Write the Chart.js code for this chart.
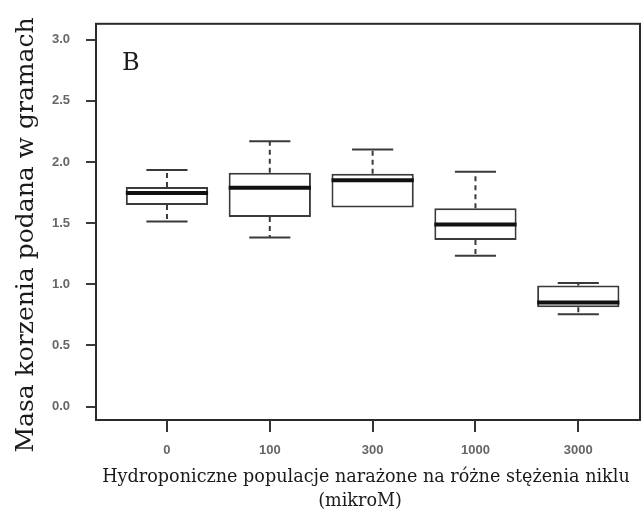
<!DOCTYPE html>
<html>
<head>
<meta charset="utf-8">
<script src="https://cdn.jsdelivr.net/npm/chart.js@4.4.1/dist/chart.umd.min.js"></script>
<style>
  html, body { margin: 0; padding: 0; background: #fff; }
  canvas { display: block; }
</style>
</head>
<body>
<canvas id="rootMass" width="642" height="511"></canvas>
<script>
// Nickel concentrations (micromolar)
const doses = ['0', '100', '300', '1000', '3000'];

// Box plot statistics, root mass in grams
const whiskerLow  = [1.513, 1.382, 1.627, 1.233, 0.755];
const q1          = [1.649, 1.551, 1.627, 1.361, 0.812];
const medians     = [1.746, 1.789, 1.850, 1.488, 0.851];
const q3          = [1.795, 1.912, 1.903, 1.622, 0.989];
const whiskerHigh = [1.934, 2.170, 2.102, 1.920, 1.011];

const yTicks = [0, 0.5, 1.0, 1.5, 2.0, 2.5, 3.0];

const yTitle = 'Masa korzenia podana w gramach';
const xTitle = ['Hydroponiczne populacje narażone na różne stężenia niklu', '(mikroM)'];
const panelLabel = 'B';

const INK = '#3a3a3a';

// whiskers (dashed) and caps under the boxes; medians, frame, ticks and titles on top
const boxPlotPlugin = {
    id: 'boxPlotExtras',
    beforeDatasetsDraw(chart) {
        const { ctx, scales: { y } } = chart;
        const meta = chart.getDatasetMeta(0);
        ctx.save();
        meta.data.forEach((bar, i) => {
            const cx = bar.x;
            const capHalf = bar.width / 4;
            const ends = [[q3[i], whiskerHigh[i]], [q1[i], whiskerLow[i]]];
            ends.forEach(([from, to]) => {
                if (Math.abs(from - to) < 1e-6) return;
                const y0 = y.getPixelForValue(from);
                const y1 = y.getPixelForValue(to);
                ctx.strokeStyle = INK;
                ctx.lineWidth = 2;
                ctx.setLineDash([5, 4]);
                ctx.beginPath();
                ctx.moveTo(cx, y0);
                ctx.lineTo(cx, y1);
                ctx.stroke();
                ctx.setLineDash([]);
                ctx.beginPath();
                ctx.moveTo(cx - capHalf, y1);
                ctx.lineTo(cx + capHalf, y1);
                ctx.stroke();
            });
        });
        ctx.restore();
    },
    afterDatasetsDraw(chart) {
        const { ctx, chartArea, scales: { y } } = chart;
        const meta = chart.getDatasetMeta(0);
        ctx.save();
        // medians
        ctx.strokeStyle = '#111';
        ctx.lineWidth = 4;
        meta.data.forEach((bar, i) => {
            const my = y.getPixelForValue(medians[i]);
            ctx.beginPath();
            ctx.moveTo(bar.x - bar.width / 2, my);
            ctx.lineTo(bar.x + bar.width / 2, my);
            ctx.stroke();
        });
        // plot frame
        ctx.strokeStyle = '#2a2a2a';
        ctx.lineWidth = 2;
        ctx.strokeRect(chartArea.left, chartArea.top, chartArea.right - chartArea.left, chartArea.bottom - chartArea.top);
        ctx.restore();
    },
    afterDraw(chart) {
        const { ctx, chartArea, scales: { x } } = chart;
        ctx.save();

        // tick marks below the frame, one per dose
        ctx.fillStyle = '#333';
        doses.forEach((d, i) => {
            const px = Math.round(x.getPixelForValue(i + 1));
            ctx.fillRect(px - 1, chartArea.bottom, 2, 12);
        });

        ctx.fillStyle = '#1a1a1a';
        ctx.textAlign = 'center';
        ctx.textBaseline = 'alphabetic';

        // y axis title
        ctx.save();
        ctx.translate(33, 235);
        ctx.rotate(-Math.PI / 2);
        ctx.font = '25px "DejaVu Serif"';
        ctx.fillText(yTitle, 0, 0);
        ctx.restore();

        // x axis title, two lines
        ctx.font = '17.6px "DejaVu Serif"';
        ctx.fillText(xTitle[0], 366, 482);
        ctx.fillText(xTitle[1], 360, 506);

        // panel letter
        ctx.textAlign = 'left';
        ctx.font = '24px "DejaVu Serif"';
        ctx.fillText(panelLabel, 122, 70);
        ctx.restore();
    }
};

const tickFont = { family: '"Liberation Sans", Arial, sans-serif', size: 13, weight: 'bold' };

new Chart(document.getElementById('rootMass'), {
    type: 'bar',
    data: {
        datasets: [{
            data: doses.map((d, i) => ({ x: i + 1, y: [q1[i], q3[i]] })),
            backgroundColor: '#fff',
            borderColor: INK,
            borderWidth: 2,
            borderSkipped: false,
            barPercentage: 0.8,
            categoryPercentage: 1
        }]
    },
    options: {
        responsive: false,
        animation: false,
        devicePixelRatio: 1,
        layout: { padding: { top: 22, right: 2, left: 0, bottom: 0 } },
        plugins: {
            legend: { display: false },
            tooltip: { enabled: false }
        },
        scales: {
            x: {
                type: 'linear',
                offset: false,
                min: 0.31,
                max: 5.6,
                afterBuildTicks: (scale) => { scale.ticks = doses.map((d, i) => ({ value: i + 1 })); },
                afterFit: (scale) => { scale.height = 91; },
                border: { display: false },
                grid: { display: false, tickLength: 11 },
                ticks: {
                    padding: 12,
                    color: '#666',
                    font: tickFont,
                    maxRotation: 0,
                    callback: (v) => doses[Math.round(v) - 1]
                }
            },
            y: {
                type: 'linear',
                min: -0.11,
                max: 3.13,
                afterBuildTicks: (scale) => { scale.ticks = yTicks.map(v => ({ value: v })); },
                afterFit: (scale) => { scale.width = 96; },
                border: { display: false },
                grid: { drawOnChartArea: false, drawTicks: true, tickLength: 10, tickColor: INK, tickWidth: 2, lineWidth: 2 },
                ticks: {
                    padding: 16,
                    color: '#666',
                    font: tickFont,
                    callback: (v) => Number(v).toFixed(1)
                }
            }
        }
    },
    plugins: [boxPlotPlugin]
});
</script>
</body>
</html>
